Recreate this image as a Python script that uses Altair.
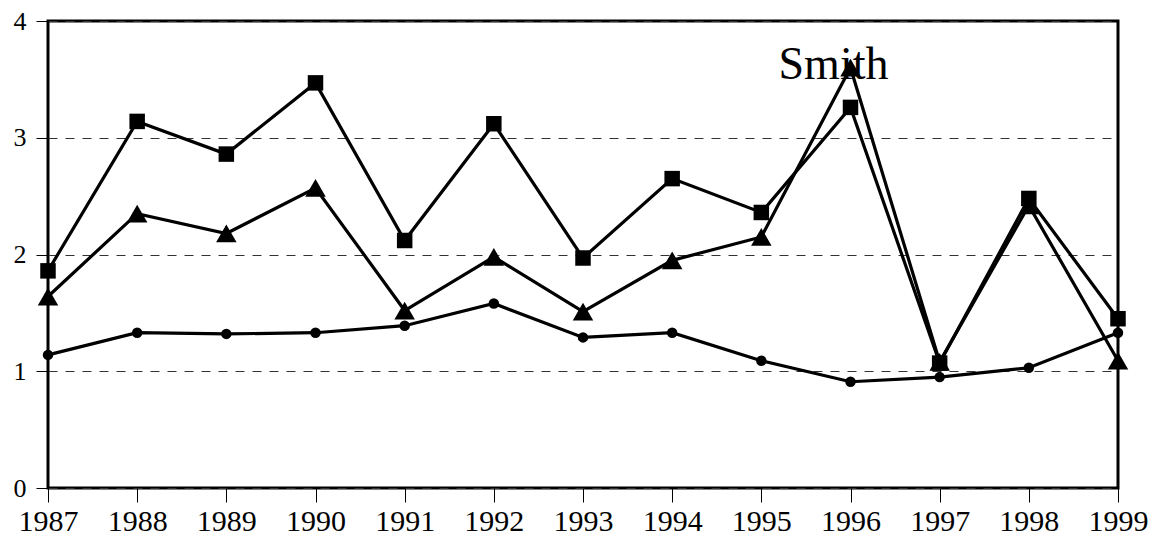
import altair as alt
import pandas as pd

years = [1987, 1988, 1989, 1990, 1991, 1992, 1993, 1994, 1995, 1996, 1997, 1998, 1999]
square_vals = [1.86, 3.14, 2.86, 3.47, 2.12, 3.12, 1.97, 2.65, 2.36, 3.26, 1.07, 2.48, 1.45]
triangle_vals = [1.64, 2.35, 2.18, 2.57, 1.52, 1.98, 1.51, 1.95, 2.15, 3.60, 1.08, 2.42, 1.09]
circle_vals = [1.14, 1.33, 1.32, 1.33, 1.39, 1.58, 1.29, 1.33, 1.09, 0.91, 0.95, 1.03, 1.33]
y_ticks = [0, 1, 2, 3, 4]
series_names = ["A", "B", "C"]
series_shapes = ["square", "triangle-up", "circle"]
series_sizes = [240, 420, 110]
annotation = "Smith"

FONT = "Liberation Serif"

x_enc = alt.X("year:Q", scale=alt.Scale(domain=[1987, 1999], nice=False, zero=False),
              axis=alt.Axis(values=years, format="d", title=None, grid=False,
                            labelFont=FONT, labelFontSize=30, labelColor="black",
                            tickColor="black", tickSize=14, tickWidth=1,
                            labelPadding=4, domain=False, labelFlush=False))
y_enc = alt.Y("value:Q", scale=alt.Scale(domain=[0, 4], nice=False),
              axis=alt.Axis(values=y_ticks, format="d", title=None,
                            grid=True, gridColor="#333333", gridDash=[9, 8], gridWidth=1,
                            labelFont=FONT, labelFontSize=26, labelColor="black",
                            tickColor="black", tickSize=12, tickWidth=1,
                            labelPadding=10, domain=False))

layers = []
for i, (name, vals, shp, sz) in enumerate(zip(series_names,
                                              [square_vals, triangle_vals, circle_vals],
                                              series_shapes, series_sizes)):
    d = pd.DataFrame({"year": years, "value": vals, "series": name})
    base = alt.Chart(d)
    layers.append(base.mark_line(color="black", strokeWidth=3.2).encode(
        x=x_enc if i == 0 else alt.X("year:Q"),
        y=y_enc if i == 0 else alt.Y("value:Q")))
    layers.append(base.mark_point(filled=True, color="black", opacity=1, strokeWidth=0,
                                  shape=shp, size=sz).encode(x="year:Q", y="value:Q"))

ann_df = pd.DataFrame({"year": [1996], "value": [3.5], "label": [annotation]})
layers.append(alt.Chart(ann_df).mark_text(font=FONT, fontSize=46, color="black",
                                          align="center", baseline="alphabetic", dx=-17).encode(
    x="year:Q", y="value:Q", text="label:N"))

chart = alt.layer(*layers).properties(
    width=1070, height=467,
    background="white",
    autosize=alt.AutoSizeParams(type="none"),
    padding={"left": 40, "top": 13, "right": 30, "bottom": 55},
).configure_view(stroke="black", strokeWidth=3)

chart.save("out.html", embed_options={"renderer": "svg", "actions": False})
